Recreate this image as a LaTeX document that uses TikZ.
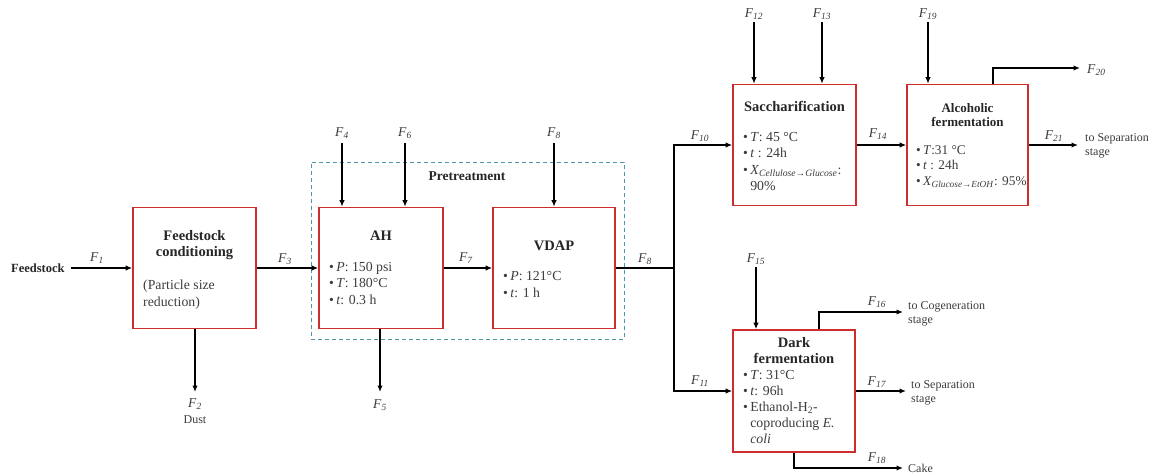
\documentclass[tikz,border=0pt]{standalone}
\usepackage{fontspec}
\setmainfont{Liberation Serif}
\usetikzlibrary{arrows.meta}
\definecolor{boxred}{RGB}{205,45,45}
\definecolor{dashblue}{RGB}{80,150,170}
\definecolor{txt}{RGB}{60,60,60}
\newcommand\FF[1]{\textit{F}\textsubscript{\textit{#1}}}
\newcommand\bul{\textbullet\,}
\begin{document}
\begin{tikzpicture}[x=1pt,y=-1pt,
  procbox/.style={draw=boxred,line width=1.6pt,minimum width=#1,minimum height=121pt,inner sep=0pt},
  flow/.style={line width=1.9pt,-{Latex[length=6.5pt,width=5.5pt]}},
  lbl/.style={font=\fontsize{13.5}{15}\selectfont,inner sep=0pt,text=txt},
  ttl/.style={font=\fontsize{14.5}{16}\selectfont\bfseries,align=center,inner sep=0pt,text=black!85},
  body/.style={font=\fontsize{13.8}{16.5}\selectfont,align=left,anchor=north west,inner sep=0pt,text=txt},
  note/.style={font=\fontsize{12}{14}\selectfont,align=left,anchor=west,inner sep=0pt,text=txt},
]
\useasboundingbox (0,0) rectangle (1154,475);

% pretreatment frame
\node[draw=dashblue,dash pattern=on 4pt off 3pt,line width=1pt,minimum width=313pt,minimum height=177pt,inner sep=0pt] (pre) at (467.5,250.5) {};
\node[ttl,font=\fontsize{13.5}{16}\selectfont\bfseries] (pret) at (467,176) {Pretreatment};

% boxes
\node[procbox=123pt] (FC) at (194.5,268) {};
\node[procbox=124pt] (AH) at (381,268) {};
\node[procbox=122pt] (VDAP) at (554,268) {};
\node[procbox=123pt] (Sac) at (794.5,145) {};
\node[procbox=121pt] (Alc) at (967.5,145) {};
\node[procbox=122pt,minimum height=122pt] (Dark) at (794,391) {};

% box texts
\node[ttl] (tFC) at (194.5,245) {Feedstock\\conditioning};
\node[body] (bFC) at (143,280) {(Particle size\\reduction)};
\node[ttl] (tAH) at (381,236) {AH};
\node[body] (bAH) at (329,262) {\bul\textit{P}: 150 psi\\ \bul\textit{T}: 180°C\\ \bul\textit{t}: 0.3 h};
\node[ttl] (tVD) at (554,246) {VDAP};
\node[body] (bVD) at (503,271.5) {\bul\textit{P}: 121°C\\ \bul\textit{t}: 1 h};
\node[ttl] (tSac) at (794.5,106) {Saccharification};
\node[body] (bSac) at (743,132) {\bul\textit{T}: 45 °C\\ \bul\textit{t} : 24h\\ \bul\textit{X}\textsubscript{\textit{Cellulose→Glucose}}:\\ \phantom{\bul}90\%};
\node[ttl,font=\fontsize{13}{14}\selectfont\bfseries] (tAlc) at (967.5,115) {Alcoholic\\fermentation};
\node[body,font=\fontsize{13.3}{15.5}\selectfont] (bAlc) at (916,145) {\bul\textit{T}:31 °C\\ \bul\textit{t} : 24h\\ \bul\textit{X}\textsubscript{\textit{Glucose→EtOH}}: 95\%};
\node[ttl] (tDark) at (794,351) {Dark\\fermentation};
\node[body,font=\fontsize{13.8}{16}\selectfont] (bDark) at (743,370) {\bul\textit{T}: 31°C\\ \bul\textit{t}: 96h\\ \bul Ethanol-H\textsubscript{2}-\\ \phantom{\bul}coproducing \textit{E.}\\ \phantom{\bul}\textit{coli}};

% feedstock
\node[note,font=\fontsize{12.5}{14}\selectfont\bfseries,text=black!85] (feed) at (11,268) {Feedstock};
\draw[flow,shorten <=6pt] (feed.east) -- (feed.east -| FC.west);
\node[lbl] (l1) at (97,258) {\FF{1}};

% F2 dust
\coordinate (e2) at (195,392);
\draw[flow] (e2 |- FC.south) -- (e2);
\node[lbl] (l2) at (195,404) {\FF{2}};
\node[note,anchor=center] (dust) at (195,420) {Dust};

% F3
\draw[flow] (FC) -- (AH);
\node[lbl] (l3) at (285,259) {\FF{3}};

% F4, F6, F8 inputs
\coordinate (s4) at (342,143);
\draw[flow] (s4) -- (s4 |- AH.north);
\node[lbl] (l4) at (342,133) {\FF{4}};
\coordinate (s6) at (405,143);
\draw[flow] (s6) -- (s6 |- AH.north);
\node[lbl] (l6) at (405,133) {\FF{6}};
\coordinate (s8) at (554,143);
\draw[flow] (s8) -- (s8 |- VDAP.north);
\node[lbl] (l8a) at (554,133) {\FF{8}};

% F5
\coordinate (e5) at (380,392);
\draw[flow] (e5 |- AH.south) -- (e5);
\node[lbl] (l5) at (380,405) {\FF{5}};

% F7
\draw[flow] (AH) -- (VDAP);
\node[lbl] (l7) at (466,258) {\FF{7}};

% F8 and split
\coordinate (j) at (674,268);
\draw[line width=1.9pt] (VDAP) -- (j);
\node[lbl] (l8b) at (645,259) {\FF{8}};
\draw[flow] (j) |- (Sac.west);
\node[lbl] (l10) at (700,136) {\FF{10}};
\draw[flow] (j) |- (Dark.west);
\node[lbl] (l11) at (700,381) {\FF{11}};

% saccharification inputs
\coordinate (s12) at (754,22);
\draw[flow] (s12) -- (s12 |- Sac.north);
\node[lbl] (l12) at (754,14) {\FF{12}};
\coordinate (s13) at (822,22);
\draw[flow] (s13) -- (s13 |- Sac.north);
\node[lbl] (l13) at (822,14) {\FF{13}};

% F14
\draw[flow] (Sac) -- (Alc);
\node[lbl] (l14) at (878,134) {\FF{14}};

% F19
\coordinate (s19) at (928,22);
\draw[flow] (s19) -- (s19 |- Alc.north);
\node[lbl] (l19) at (928,14) {\FF{19}};

% F20
\coordinate (a20) at (993,0);
\coordinate (e20) at (1080,68);
\draw[flow] (a20 |- Alc.north) |- (e20);
\node[lbl,anchor=west] (l20) at (1087,70) {\FF{20}};

% F21
\coordinate (e21) at (1078,145);
\draw[flow] (Alc.east) -- (e21);
\node[lbl] (l21) at (1054,136) {\FF{21}};
\node[note] (sep1) at (1085,146) {to Separation\\stage};

% dark fermentation
\coordinate (s15) at (756,267);
\draw[flow] (s15) -- (s15 |- Dark.north);
\node[lbl] (l15) at (756,259) {\FF{15}};

\coordinate (a16) at (819,0);
\coordinate (e16) at (903,312);
\draw[flow] (a16 |- Dark.north) |- (e16);
\node[lbl] (l16) at (877,302) {\FF{16}};
\node[note] (cog) at (908,314) {to Cogeneration\\stage};

\coordinate (e17) at (906,391);
\draw[flow] (Dark.east) -- (e17);
\node[lbl] (l17) at (877,382) {\FF{17}};
\node[note] (sep2) at (911,393) {to Separation\\stage};

\coordinate (a18) at (794,0);
\coordinate (e18) at (903,468);
\draw[flow] (a18 |- Dark.south) |- (e18);
\node[lbl] (l18) at (877,458) {\FF{18}};
\node[note] (cake) at (908,468) {Cake};
\end{tikzpicture}
\end{document}
